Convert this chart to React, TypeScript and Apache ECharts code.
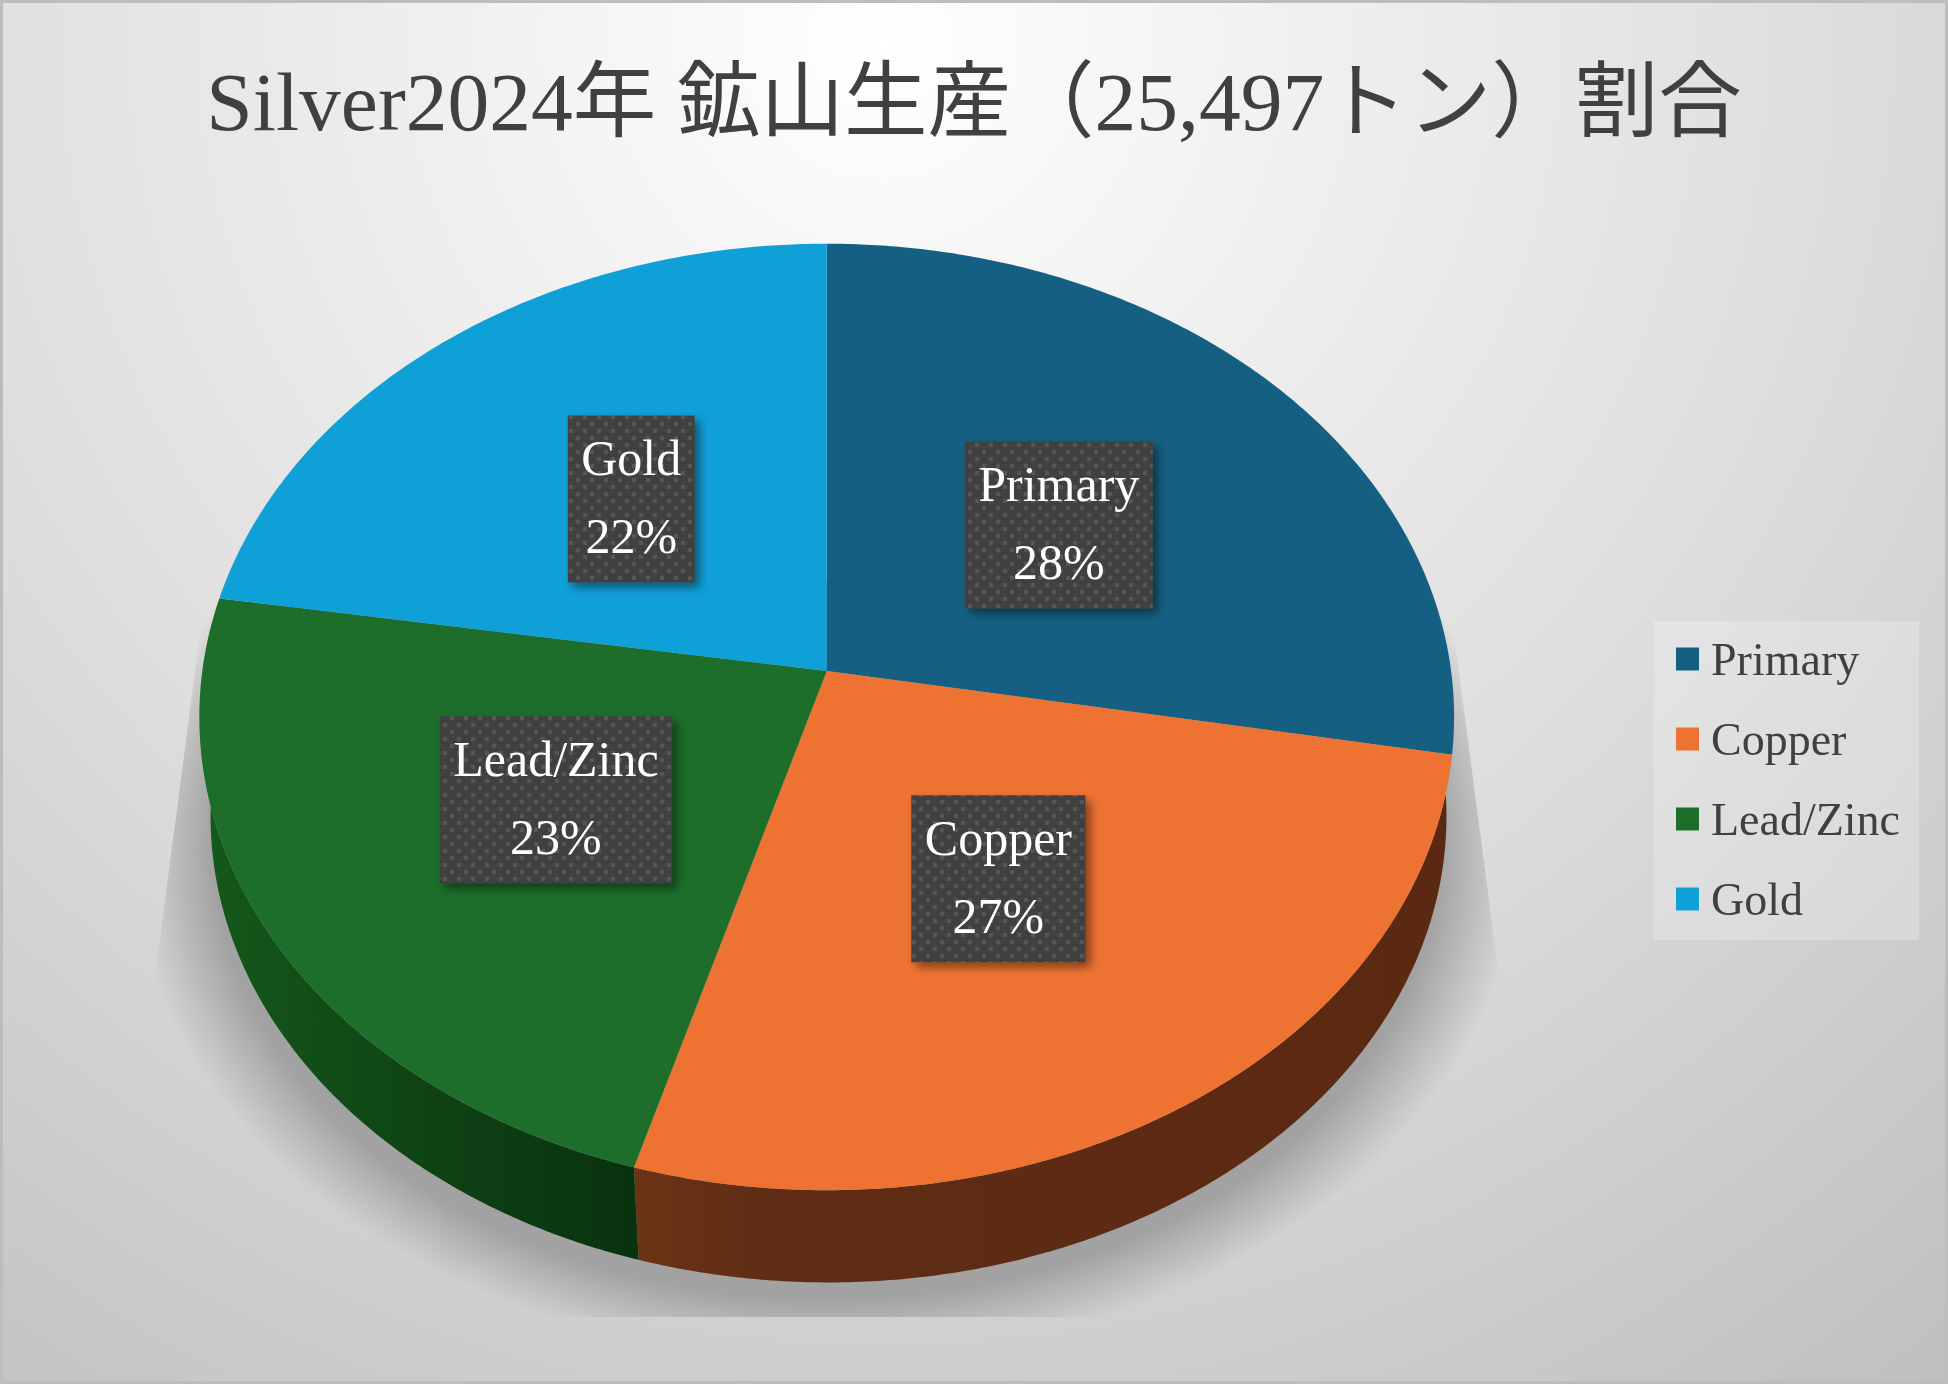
import React, { useEffect, useRef } from "react";
import * as echarts from "echarts";

const titleText = "Silver2024年 鉱山生産（25,497トン）割合";
const categories = ["Primary", "Copper", "Lead/Zinc", "Gold"];
const tonnes = [7090, 6810, 5863, 5734];
const colors = ["#156082", "#EE7333", "#1C6E2A", "#10A0D8"];
const wallStops: (string[] | null)[] = [
  null,
  ["#6c3416", "#5f2c14", "#5b2912"],
  ["#14581a", "#0e4114", "#09320f"],
  null,
];
const wallMidOffsets = [0, 0.16, 0.55, 0];

const W = 1948;
const H = 1384;
const SERIF = '"Liberation Serif"';
const TITLE_FONT = '"Liberation Serif","Noto Sans CJK JP"';

// perspective projection of the disc
const CX = 826.7;
const CY = 671;
const PA = 624.4;
const PB = 468.8;
const PK = 0.0971;
const DEPTH = 100;
const SCALE_LOW = 0.985;
const SHIFT_LOW = 1.8;
// visible side-wall limits (degrees, clockwise from 12 o'clock)
const LOW_START = 93;
const TOP_START = 105;
const LOW_END = 265.7;
const TOP_END = 253.6;

const total = tonnes.reduce((a, b) => a + b, 0);
const angleOf = (i: number) =>
  (tonnes.slice(0, i).reduce((a, b) => a + b, 0) / total) * 360;

function project(deg: number, r = 1, low = false): number[] {
  const t = (deg * Math.PI) / 180;
  const u = Math.sin(t) * r;
  const v = Math.cos(t) * r;
  const d = 1 + PK * v;
  const s = low ? SCALE_LOW : 1;
  return [
    CX + (low ? SHIFT_LOW : 0) + (s * PA * u) / d,
    CY + (low ? DEPTH : 0) - (s * PB * v) / d,
  ];
}

function rim(a: number, b: number, low = false): number[][] {
  const out: number[][] = [];
  const n = Math.max(2, Math.ceil(Math.abs(b - a) * 2));
  for (let i = 0; i <= n; i++) out.push(project(a + ((b - a) * i) / n, 1, low));
  return out;
}

function dotCanvas(): HTMLCanvasElement {
  const c = document.createElement("canvas");
  c.width = 14;
  c.height = 14;
  const g = c.getContext("2d")!;
  g.fillStyle = "#404040";
  g.fillRect(0, 0, 14, 14);
  g.fillStyle = "#565656";
  g.fillRect(2, 2, 4, 4);
  g.fillRect(9, 9, 4, 4);
  return c;
}

function textWidth(s: string, font: string): number {
  const c = document.createElement("canvas").getContext("2d")!;
  c.font = font;
  return c.measureText(s).width;
}

export default function App() {
  const ref = useRef<HTMLDivElement>(null);
  useEffect(() => {
    const chart = echarts.init(ref.current!, undefined, { renderer: "svg" });
    const pattern = dotCanvas();
    const labelFont = `50px ${SERIF}`;

    const shadowPts: number[][] = [];
    for (let i = 0; i < 360; i += 2) {
      const t = (i * Math.PI) / 180;
      shadowPts.push([826 + 695 * Math.cos(t), 850 + 510 * Math.sin(t)]);
    }

    const shadowSeries = {
      type: "custom",
      name: "shadow",
      coordinateSystem: "none",
      z: 2,
      silent: true,
      data: [[1]],
      renderItem: () => ({
        type: "polygon",
        shape: { points: shadowPts },
        clipPath: {
          type: "polygon",
          shape: {
            points: [
              [207, 580],
              [1447, 580],
              [1502, 1000],
              [1548, 1317],
              [108, 1317],
              [152, 1000],
            ],
          },
        },
        style: {
          fill: {
            type: "radial",
            x: 0.5,
            y: 0.5,
            r: 0.5,
            colorStops: [
              { offset: 0, color: "rgba(162,162,162,1)" },
              { offset: 0.88, color: "rgba(162,162,162,1)" },
              { offset: 0.94, color: "rgba(162,162,162,0.5)" },
              { offset: 1, color: "rgba(162,162,162,0)" },
            ],
          },
        },
      }),
    };

    const wallSeries = {
      type: "custom",
      name: "wall",
      coordinateSystem: "none",
      z: 3,
      silent: true,
      data: categories.map((_, i) => [tonnes[i]]),
      renderItem: (params: any) => {
        const i = params.dataIndex;
        const a1 = angleOf(i);
        const a2 = angleOf(i + 1);
        const stops = wallStops[i];
        if (!stops) return null;
        const lowA = a1 < TOP_START ? LOW_START : a1;
        const topA = a1 < TOP_START ? TOP_START : a1;
        const lowB = a2 > TOP_END ? LOW_END : a2;
        const topB = a2 > TOP_END ? TOP_END : a2;
        return {
          type: "polygon",
          shape: { points: [...rim(lowA, lowB, true), ...rim(topB, topA)] },
          style: {
            fill: {
              type: "linear",
              x: 0,
              y: 0,
              x2: 1,
              y2: 0,
              colorStops: [
                { offset: 0, color: stops[0] },
                { offset: wallMidOffsets[i], color: stops[1] },
                { offset: 1, color: stops[2] },
              ],
            },
          },
        };
      },
    };

    const sliceSeries = categories.map((name, idx) => ({
      type: "custom",
      name,
      coordinateSystem: "none",
      z: 4,
      silent: true,
      itemStyle: { color: colors[idx] },
      data: [[tonnes[idx]]],
      renderItem: (_: any, api: any) => {
        const value = api.value(0);
        const a1 = angleOf(idx);
        const a2 = a1 + (value / total) * 360;
        const mid = project((a1 + a2) / 2, 0.5);
        const pct = `${Math.round((value / total) * 100)}%`;
        const bw = Math.max(textWidth(name, labelFont), textWidth(pct, labelFont)) + 27;
        const bh = 167;
        return {
          type: "group",
          children: [
            {
              type: "polygon",
              shape: { points: [[CX, CY], ...rim(a1, a2)] },
              style: { fill: colors[idx] },
            },
            {
              type: "rect",
              z2: 10,
              shape: { x: mid[0] - bw / 2, y: mid[1] - bh / 2, width: bw, height: bh },
              style: {
                fill: { image: pattern, repeat: "repeat" },
                shadowBlur: 10,
                shadowOffsetX: 5,
                shadowOffsetY: 5,
                shadowColor: "rgba(0,0,0,0.45)",
              },
            },
            {
              type: "text",
              z2: 11,
              x: mid[0],
              y: mid[1] - 41,
              style: {
                text: name,
                font: labelFont,
                fill: "#ffffff",
                align: "center",
                verticalAlign: "middle",
              },
            },
            {
              type: "text",
              z2: 11,
              x: mid[0],
              y: mid[1] + 37,
              style: {
                text: pct,
                font: labelFont,
                fill: "#ffffff",
                align: "center",
                verticalAlign: "middle",
              },
            },
          ],
        };
      },
    }));

    chart.setOption({
      animation: false,
      title: {
        text: titleText,
        left: "center",
        top: 60,
        padding: 0,
        textStyle: {
          fontFamily: TITLE_FONT,
          fontSize: 83.5,
          fontWeight: "normal",
          color: "#404040",
        },
      },
      legend: {
        data: categories,
        orient: "vertical",
        left: 1654,
        top: 621,
        padding: [15, 19, 18, 22],
        itemWidth: 23,
        itemHeight: 23,
        itemGap: 34,
        icon: "rect",
        selectedMode: false,
        backgroundColor: "rgba(255,255,255,0.22)",
        textStyle: {
          fontFamily: SERIF,
          fontSize: 46,
          color: "#404040",
          padding: [0, 0, 3, 7],
        },
      },
      graphic: {
        elements: [
          {
            type: "rect",
            z: -10,
            silent: true,
            shape: { x: 0, y: 0, width: W, height: H },
            style: {
              fill: {
                type: "radial",
                x: 880,
                y: 40,
                r: 1720,
                global: true,
                colorStops: [
                  { offset: 0, color: "#ffffff" },
                  { offset: 0.28, color: "#eeeeee" },
                  { offset: 0.55, color: "#dedede" },
                  { offset: 0.75, color: "#d0d0d0" },
                  { offset: 1, color: "#bfbfbf" },
                ],
              },
              stroke: "#bdbdbd",
              lineWidth: 6,
            },
          },
        ],
      },
      series: [shadowSeries, wallSeries, ...sliceSeries],
    });
    return () => chart.dispose();
  }, []);
  return (
    <div
      ref={ref}
      style={{ position: "fixed", left: 0, top: 0, width: W, height: H }}
    />
  );
}
